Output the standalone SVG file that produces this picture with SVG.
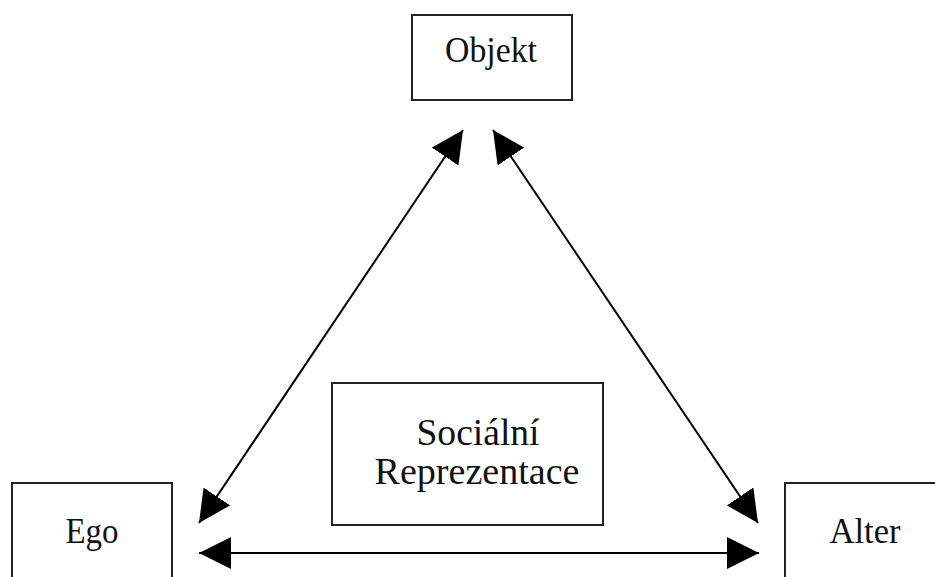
<svg xmlns="http://www.w3.org/2000/svg" width="935" height="577" viewBox="0 0 935 577">
<defs>
<marker id="ah" markerUnits="userSpaceOnUse" markerWidth="32" markerHeight="32" viewBox="0 0 30 30" refX="30" refY="15" orient="auto-start-reverse">
<path d="M0,0 L30,15 L0,30 z" fill="#000"/>
</marker>
<style>
.box{fill:#fff;stroke:#222;stroke-width:2}
.lbl{font-family:"Liberation Serif","Times New Roman",serif;fill:#111;text-anchor:middle}
.con{stroke:#000;stroke-width:2;fill:none;marker-start:url(#ah);marker-end:url(#ah)}
</style>
</defs>
<rect width="935" height="577" fill="#fff"/>
<g id="connectors">
<line class="con" x1="463" y1="130" x2="199" y2="523"/>
<line class="con" x1="493" y1="130" x2="758" y2="523"/>
<line class="con" x1="199" y1="553" x2="759" y2="553"/>
</g>
<g id="objekt">
<rect class="box" x="412" y="15" width="160" height="85"/>
<text class="lbl" x="491" y="62" font-size="36" textLength="92" lengthAdjust="spacingAndGlyphs">Objekt</text>
</g>
<g id="ego">
<rect class="box" x="12" y="483" width="160" height="110"/>
<text class="lbl" x="92" y="543" font-size="35" textLength="53" lengthAdjust="spacingAndGlyphs">Ego</text>
</g>
<g id="alter">
<rect class="box" x="785" y="483" width="160" height="110"/>
<text class="lbl" x="865" y="543" font-size="35" textLength="71" lengthAdjust="spacingAndGlyphs">Alter</text>
</g>
<g id="socialni">
<rect class="box" x="332" y="383" width="271" height="142"/>
<text class="lbl" x="478" y="445" font-size="37" textLength="123" lengthAdjust="spacingAndGlyphs">Sociální</text>
<text class="lbl" x="477" y="484" font-size="37" textLength="205" lengthAdjust="spacingAndGlyphs">Reprezentace</text>
</g>
</svg>
